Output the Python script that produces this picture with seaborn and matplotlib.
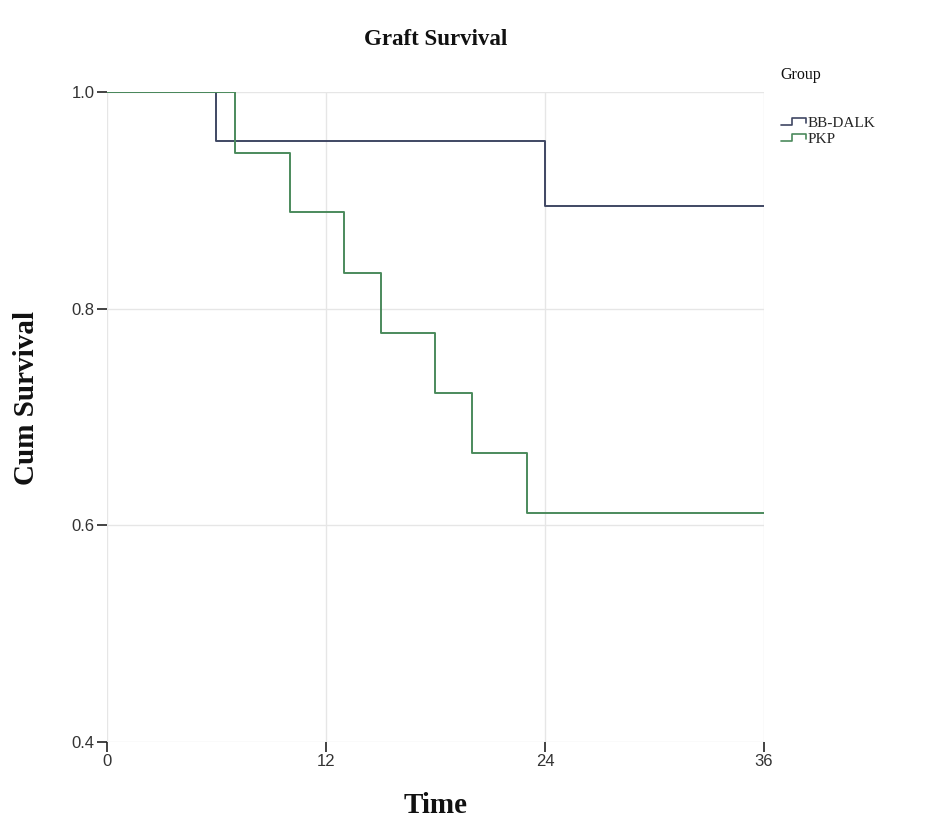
import matplotlib
matplotlib.use("Agg")
import matplotlib.pyplot as plt
from matplotlib.legend_handler import HandlerBase
from matplotlib.lines import Line2D
import seaborn as sns
import pandas as pd

# ---- data ----
groups = ["BB-DALK", "PKP"]
bb_times = [0, 6, 24, 36]
bb_surv = [1.0, 0.955, 0.895, 0.895]
pkp_times = [0, 7, 10, 13, 15, 18, 20, 23, 36]
pkp_surv = [1.0, 0.944, 0.889, 0.833, 0.778, 0.722, 0.667, 0.611, 0.611]
x_ticks = [0, 12, 24, 36]
y_ticks = [0.4, 0.6, 0.8, 1.0]
colors = {"BB-DALK": "#3f4763", "PKP": "#4b8a5c"}

df = pd.concat([
    pd.DataFrame({"Time": bb_times, "Surv": bb_surv, "Group": groups[0]}),
    pd.DataFrame({"Time": pkp_times, "Surv": pkp_surv, "Group": groups[1]}),
], ignore_index=True)

sns.set_theme(style="white")
plt.rcParams["font.family"] = ["Liberation Sans", "DejaVu Sans"]

fig = plt.figure(figsize=(9.42, 8.33), dpi=100)
ax = fig.add_axes([107 / 942, 1 - 742 / 833, (764 - 107) / 942, (742 - 92) / 833])

sns.lineplot(data=df, x="Time", y="Surv", hue="Group", palette=colors,
             drawstyle="steps-post", estimator=None, linewidth=1.4, ax=ax,
             legend=False, zorder=3)

ax.set_xlim(0, 36)
ax.set_ylim(0.4, 1.0)
ax.set_xticks(x_ticks)
ax.set_xticklabels([str(t) for t in x_ticks])
ax.set_yticks(y_ticks)
ax.set_yticklabels([f"{t:.1f}" for t in y_ticks])
for s in ax.spines.values():
    s.set_visible(False)
ax.grid(True, color="#e6e6e6", linewidth=1.0, zorder=0)
ax.tick_params(axis="both", which="major", direction="out", length=7, width=1.2,
               color="#222222", labelsize=12, labelcolor="#333333", pad=2,
               bottom=True, left=True)
ax.set_xlabel("Time", family=["Liberation Serif"], fontweight="bold", fontsize=21,
              labelpad=16, color="#111111")
ax.set_ylabel("Cum Survival", family=["Liberation Serif"], fontweight="bold",
              fontsize=21, color="#111111")
ax.yaxis.set_label_coords((40 - 107) / 657, (742 - 398) / 650)
ax.set_title("Graft Survival", family=["Liberation Serif"], fontweight="bold",
             fontsize=16.5, pad=34, color="#111111")


class StepHandler(HandlerBase):
    def create_artists(self, legend, orig_handle, xdescent, ydescent, width,
                       height, fontsize, trans):
        w, h = width, height
        xs = [-xdescent, -xdescent + 0.45 * w, -xdescent + 0.45 * w,
              -xdescent + w, -xdescent + w]
        ys = [-ydescent + 0.15 * h, -ydescent + 0.15 * h, -ydescent + 0.8 * h,
              -ydescent + 0.8 * h, -ydescent + 0.4 * h]
        ln = Line2D(xs, ys, color=orig_handle.get_color(), linewidth=1.2,
                    transform=trans)
        return [ln]


fig.text(780 / 942, 1 - 75 / 833, "Group", family=["Liberation Serif"],
         fontsize=11.5, color="#111111", ha="left", va="center")
handles = [Line2D([], [], color=colors[g]) for g in groups]
leg = fig.legend(handles, groups, loc="upper left",
                 bbox_to_anchor=(775 / 942, 1 - 110 / 833), frameon=False,
                 handler_map={Line2D: StepHandler()}, handlelength=1.6,
                 handletextpad=0.15, labelspacing=0.15, borderaxespad=0,
                 prop={"family": "Liberation Serif", "size": 11})

fig.savefig("out.png", dpi=100, facecolor="white")
